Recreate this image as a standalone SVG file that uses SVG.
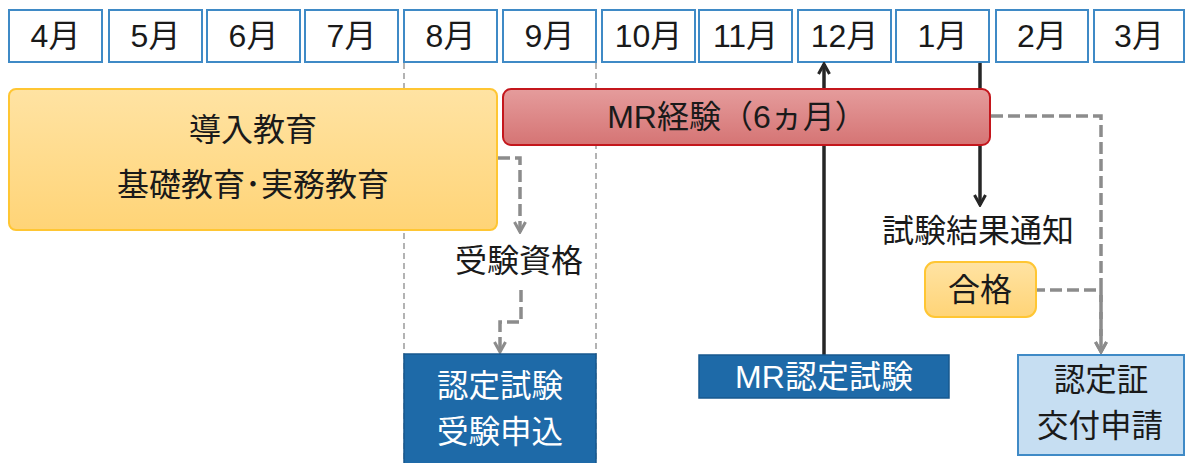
<svg xmlns="http://www.w3.org/2000/svg" width="1186" height="463" viewBox="0 0 1186 463">
<defs>
<linearGradient id="gy" x1="0" y1="0" x2="0" y2="1"><stop offset="0" stop-color="#ffe3a3"/><stop offset="1" stop-color="#ffd477"/></linearGradient>
<linearGradient id="gr" x1="0" y1="0" x2="0" y2="1"><stop offset="0" stop-color="#e59c9c"/><stop offset="1" stop-color="#d57474"/></linearGradient>
<marker id="ag" markerUnits="userSpaceOnUse" viewBox="0 0 14 14" refX="12" refY="7" markerWidth="14" markerHeight="14" orient="auto"><path d="M2,1.5 L12,7 L2,12.5" fill="none" stroke="#8c8c8c" stroke-width="3"/></marker>
<marker id="ak" markerUnits="userSpaceOnUse" viewBox="0 0 14 14" refX="12" refY="7" markerWidth="14" markerHeight="14" orient="auto"><path d="M2,1.5 L12,7 L2,12.5" fill="none" stroke="#262626" stroke-width="3"/></marker>
</defs>
<style>
text{font-family:"Liberation Sans","Noto Sans CJK JP",sans-serif;font-size:32px;fill:#1a1a1a;text-anchor:middle;dominant-baseline:central}
.mon{fill:#fff;stroke:#3f8ac6;stroke-width:2}
.guide{stroke:#9a9a9a;stroke-width:1.5;stroke-dasharray:6 4;fill:none}
.dash{stroke:#8c8c8c;stroke-width:3.5;stroke-dasharray:12 5;fill:none;marker-end:url(#ag)}
.blk{stroke:#262626;stroke-width:3.5;fill:none;marker-end:url(#ak)}
.yel{fill:url(#gy);stroke:#ffc633;stroke-width:2}
.red{fill:url(#gr);stroke:#c4161c;stroke-width:2}
.dblue{fill:#1e6aa8;stroke:#17588e;stroke-width:1.5}
.lblue{fill:#c6def2;stroke:#3f8ac6;stroke-width:2}
.w{fill:#fff}
.two{font-size:31.5px}
</style>
<g id="months">
<g id="m4"><rect class="mon" x="9" y="10" width="93" height="52"/><text x="55.5" y="36">4月</text></g>
<g id="m5"><rect class="mon" x="109" y="10" width="93" height="52"/><text x="155.5" y="36">5月</text></g>
<g id="m6"><rect class="mon" x="207" y="10" width="93" height="52"/><text x="253.5" y="36">6月</text></g>
<g id="m7"><rect class="mon" x="305" y="10" width="93" height="52"/><text x="351.5" y="36">7月</text></g>
<g id="m8"><rect class="mon" x="404" y="10" width="93" height="52"/><text x="450.5" y="36">8月</text></g>
<g id="m9"><rect class="mon" x="503" y="10" width="93" height="52"/><text x="549.5" y="36">9月</text></g>
<g id="m10"><rect class="mon" x="602" y="10" width="93" height="52"/><text x="648.5" y="36">10月</text></g>
<g id="m11"><rect class="mon" x="699" y="10" width="93" height="52"/><text x="745.5" y="36">11月</text></g>
<g id="m12"><rect class="mon" x="798" y="10" width="93" height="52"/><text x="844.5" y="36">12月</text></g>
<g id="m1"><rect class="mon" x="896" y="10" width="93" height="52"/><text x="942.5" y="36">1月</text></g>
<g id="m2"><rect class="mon" x="996" y="10" width="92" height="52"/><text x="1042" y="36">2月</text></g>
<g id="m3"><rect class="mon" x="1094" y="10" width="90" height="52"/><text x="1139" y="36">3月</text></g>
</g>
<g id="guides">
<line class="guide" x1="404" y1="63" x2="404" y2="463"/>
<line class="guide" x1="596" y1="63" x2="596" y2="463"/>
</g>
<g id="connectors">
<path class="blk" d="M824,355 V64"/>
<path class="blk" d="M980,63 V205"/>
<path class="dash" d="M498,158 H520 V232"/>
<path class="dash" d="M521,290 V322 H500 V352"/>
<path class="dash" d="M991,116 H1101 V352"/>
<path class="dash" d="M1037,290 H1101 V352" stroke-dashoffset="4"/>
</g>
<g id="intro"><rect class="yel" x="9" y="89" width="488" height="141" rx="7"/><text x="253" y="130" font-size="33">導入教育</text><text x="253" y="185" font-size="33">基礎教育･実務教育</text></g>
<g id="mr-exp"><rect class="red" x="503" y="89" width="487" height="56" rx="8"/><text x="737" y="117" font-size="30">MR経験（6ヵ月）</text></g>
<g id="qual"><text x="519" y="261" font-size="33">受験資格</text></g>
<g id="apply"><rect class="dblue" x="404" y="354" width="192" height="112"/><text class="w two" x="500" y="386">認定試験</text><text class="w two" x="500" y="432">受験申込</text></g>
<g id="mr-test"><rect class="dblue" x="699" y="355" width="250" height="43"/><text class="w" x="824" y="377" font-size="32">MR認定試験</text></g>
<g id="result"><text x="978" y="231" font-size="33">試験結果通知</text></g>
<g id="pass"><rect class="yel" x="925" y="262" width="111" height="55" rx="10"/><text x="980" y="290" font-size="33">合格</text></g>
<g id="cert"><rect class="lblue" x="1018" y="355" width="166" height="100"/><text class="two" x="1101" y="380">認定証</text><text class="two" x="1100" y="426">交付申請</text></g>
</svg>
